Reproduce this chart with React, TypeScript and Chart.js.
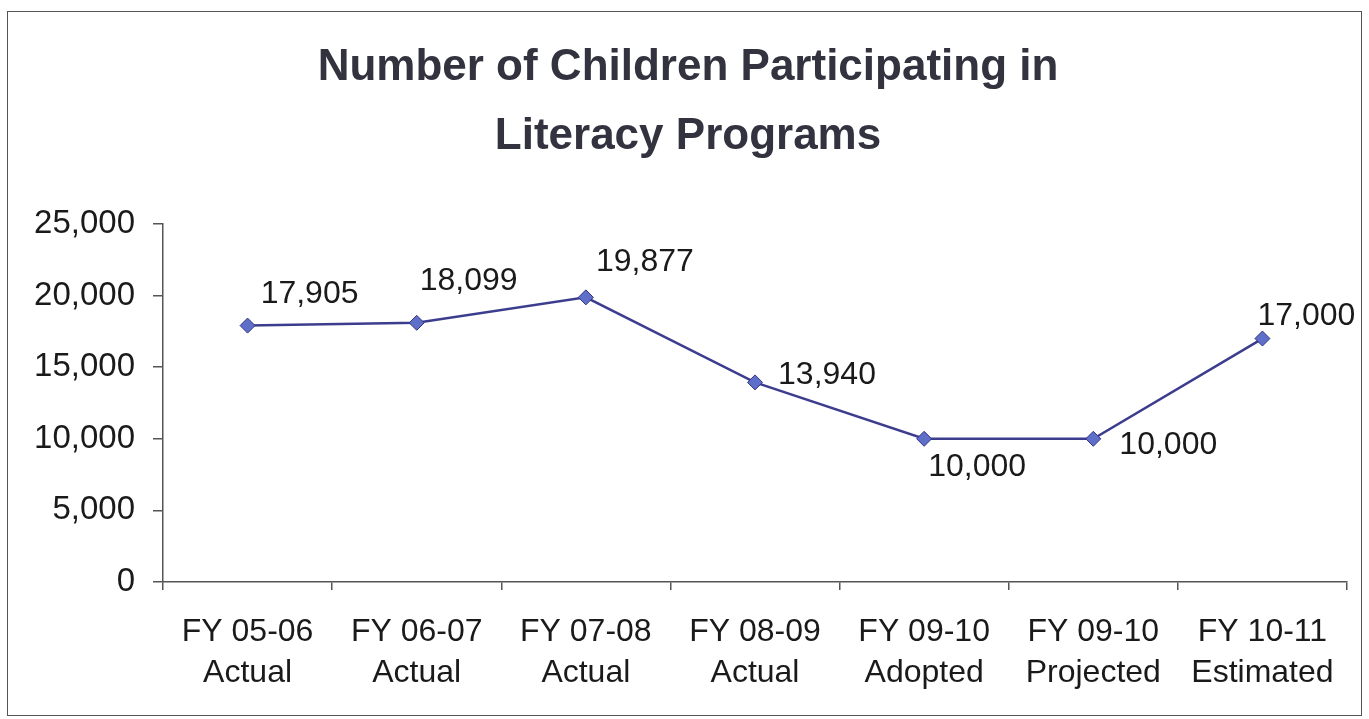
import React, { useEffect, useRef } from "react";
import { Chart, registerables } from "chart.js";

Chart.register(...registerables);

const categories: string[][] = [
  ["FY 05-06", "Actual"],
  ["FY 06-07", "Actual"],
  ["FY 07-08", "Actual"],
  ["FY 08-09", "Actual"],
  ["FY 09-10", "Adopted"],
  ["FY 09-10", "Projected"],
  ["FY 10-11", "Estimated"],
];
const participants: number[] = [17905, 18099, 19877, 13940, 10000, 10000, 17000];
const titleLines: string[] = ["Number of Children Participating in", "Literacy Programs"];
const yTickValues: number[] = [0, 5000, 10000, 15000, 20000, 25000];
// label placement offsets (text centre relative to point), pixels
const labelOffsets: number[][] = [
  [62, -34],
  [52, -44],
  [59, -38],
  [72, -10],
  [53, 26],
  [75, 4],
  [44, -25],
];

const FONT = "'Liberation Sans', Arial, sans-serif";

const fmt = (v: number) => v.toLocaleString("en-US");

const labelsPlugin = {
  id: "pointLabels",
  afterDatasetsDraw(chart: any) {
    const ctx = chart.ctx;
    const meta = chart.getDatasetMeta(0);
    ctx.save();
    ctx.font = `32px ${FONT}`;
    ctx.fillStyle = "#1a1a1a";
    ctx.textAlign = "center";
    ctx.textBaseline = "alphabetic";
    meta.data.forEach((pt: any, i: number) => {
      const off = labelOffsets[i] || [0, -30];
      ctx.fillText(fmt(participants[i]), pt.x + off[0], pt.y + off[1] + 11.5);
    });
    ctx.restore();
  },
};

const titlePlugin = {
  id: "customTitle",
  afterDraw(chart: any) {
    const ctx = chart.ctx;
    ctx.save();
    ctx.font = `bold 44px ${FONT}`;
    ctx.fillStyle = "#33333f";
    ctx.textAlign = "center";
    ctx.textBaseline = "alphabetic";
    ctx.fillText(titleLines[0], 688, 80);
    ctx.fillText(titleLines[1], 688, 149);
    ctx.restore();
  },
};

export default function App() {
  const ref = useRef<HTMLCanvasElement | null>(null);
  useEffect(() => {
    if (!ref.current) return;
    const chart = new Chart(ref.current, {
      type: "line",
      data: {
        labels: categories,
        datasets: [
          {
            data: participants,
            borderColor: "#3d3d8f",
            borderWidth: 2.5,
            pointStyle: "rectRot",
            pointRadius: 7.5,
            pointBackgroundColor: "#5d6fc9",
            pointBorderColor: "#33337f",
            pointBorderWidth: 1,
            tension: 0,
          },
        ],
      },
      options: {
        animation: false,
        responsive: true,
        maintainAspectRatio: false,
        devicePixelRatio: 1,
        layout: { padding: { top: 224, left: 0, right: 22, bottom: 7 } },
        plugins: {
          legend: { display: false },
          title: { display: false },
          tooltip: { enabled: false },
        },
        scales: {
          x: {
            type: "category",
            offset: true,
            grid: {
              offset: true,
              drawOnChartArea: false,
              drawTicks: true,
              tickLength: 8,
              color: "#555",
              lineWidth: 1.5,
            },
            border: { display: true, color: "#555", width: 1.5 },
            ticks: {
              color: "#1a1a1a",
              font: { family: FONT, size: 32, lineHeight: 1.3 },
              padding: 21,
              maxRotation: 0,
              autoSkip: false,
            },
            afterFit(scale: any) {
              scale.height = 130;
            },
          },
          y: {
            min: 0,
            max: 25000,
            afterBuildTicks(scale: any) {
              scale.ticks = yTickValues.map((v) => ({ value: v }));
            },
            grid: {
              drawOnChartArea: false,
              drawTicks: true,
              tickLength: 10,
              color: "#555",
              lineWidth: 1.5,
            },
            border: { display: true, color: "#555", width: 1.5 },
            ticks: {
              color: "#1a1a1a",
              font: { family: FONT, size: 33 },
              padding: 18,
              callback: (v: any) => fmt(Number(v)),
            },
            afterFit(scale: any) {
              scale.width = 163;
            },
          },
        },
      },
      plugins: [labelsPlugin, titlePlugin],
    });
    return () => chart.destroy();
  }, []);

  return (
    <div style={{ position: "absolute", left: 0, top: 0, width: 1369, height: 719, background: "#fff" }}>
      <div
        style={{
          position: "absolute",
          left: 7,
          top: 11,
          width: 1355,
          height: 705,
          border: "1.5px solid #555",
          boxSizing: "border-box",
        }}
      />
      <canvas ref={ref} style={{ position: "absolute", left: 0, top: 0, width: 1369, height: 719 }} />
    </div>
  );
}
